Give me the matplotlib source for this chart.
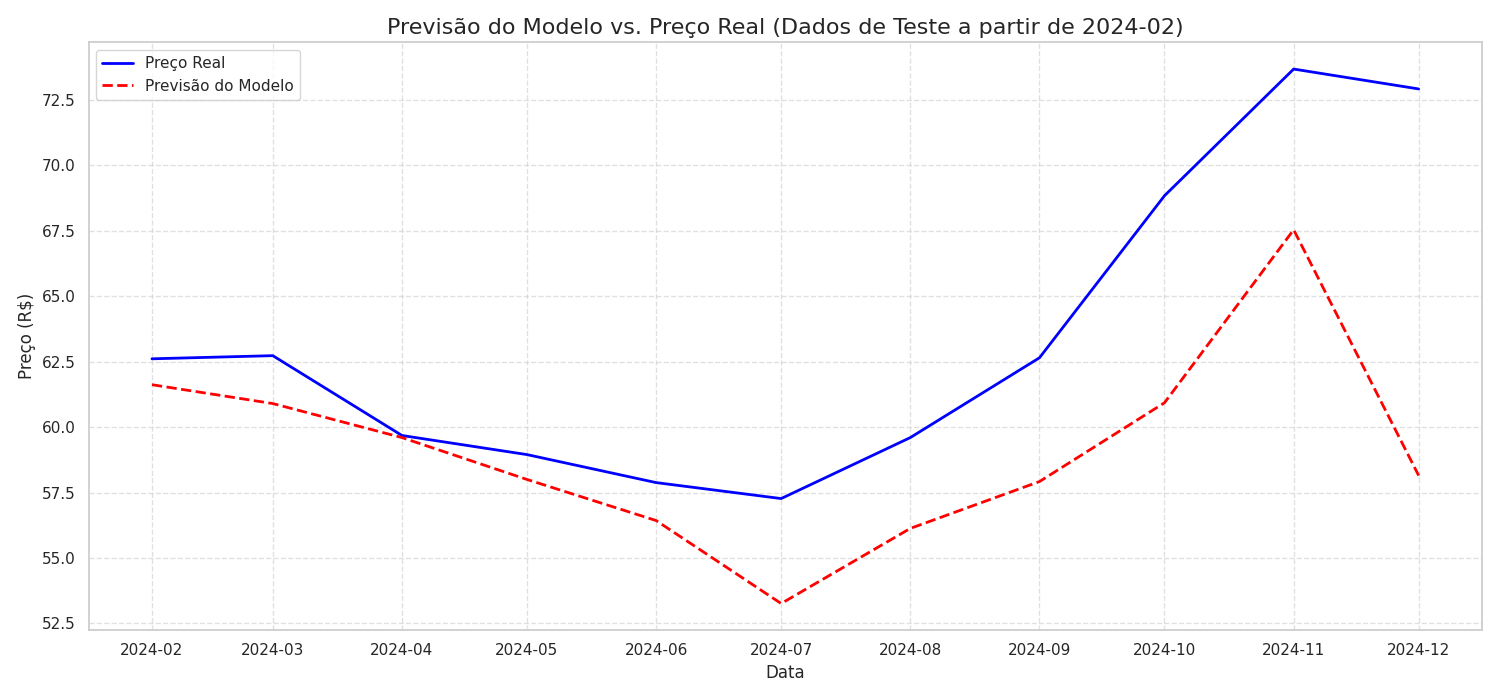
import matplotlib.pyplot as plt
import matplotlib.dates as mdates
import pandas as pd
import seaborn as sns

datas = pd.date_range("2024-02-01", "2024-12-01", freq="MS")
preco_real = [62.61, 62.73, 59.68, 58.95, 57.88, 57.27, 59.60, 62.65, 68.84, 73.68, 72.92]
previsao = [61.62, 60.90, 59.60, 58.00, 56.43, 53.26, 56.13, 57.92, 60.93, 67.54, 58.15]

sns.set_theme(style="whitegrid")

fig, ax = plt.subplots(figsize=(15, 7))
ax.plot(datas, preco_real, color="blue", linewidth=2, label="Preço Real")
ax.plot(datas, previsao, color="red", linestyle="--", linewidth=2, label="Previsão do Modelo")

ax.xaxis.set_major_locator(mdates.MonthLocator())
ax.xaxis.set_major_formatter(mdates.DateFormatter("%Y-%m"))
ax.grid(True, linestyle="--", alpha=0.6)

ax.set_title("Previsão do Modelo vs. Preço Real (Dados de Teste a partir de 2024-02)", fontsize=16)
ax.set_xlabel("Data")
ax.set_ylabel("Preço (R$)")
ax.legend(loc="upper left")

plt.tight_layout()
plt.savefig("out.png", dpi=100)
plt.close()
